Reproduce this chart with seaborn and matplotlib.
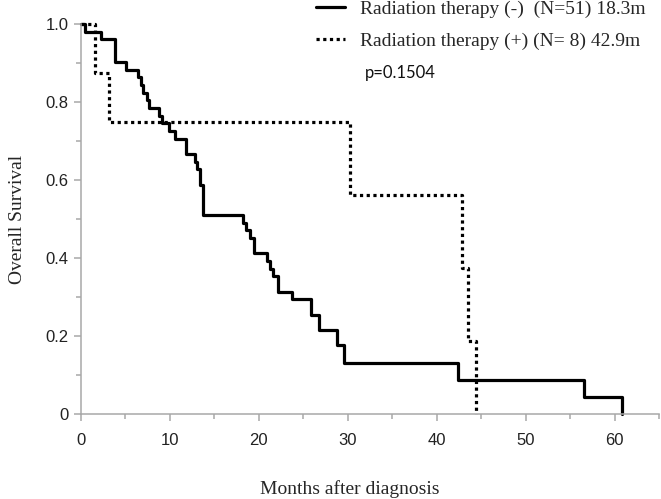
import matplotlib
matplotlib.use("Agg")
import matplotlib.pyplot as plt
import seaborn as sns
import pandas as pd
from matplotlib.ticker import MultipleLocator

# ---- data ----
rt_neg_months = [0, 0.45, 2.3, 3.8, 5.1, 6.45, 6.75, 7.0, 7.4, 7.6, 8.8, 9.1, 9.9, 10.6,
                 11.8, 12.8, 13.0, 13.4, 13.7, 18.2, 18.5, 19.0, 19.4, 20.9, 21.2, 21.6,
                 22.1, 23.7, 25.9, 26.8, 28.8, 29.6, 42.4, 56.6, 60.8]
rt_neg_surv = [1.0, 0.980, 0.961, 0.902, 0.882, 0.863, 0.843, 0.824, 0.804, 0.784, 0.765,
               0.745, 0.725, 0.706, 0.667, 0.647, 0.627, 0.588, 0.510, 0.490, 0.471, 0.451,
               0.412, 0.392, 0.373, 0.353, 0.314, 0.294, 0.255, 0.216, 0.176, 0.130, 0.087,
               0.044, 0.0]
rt_pos_months = [0, 1.6, 3.1, 30.3, 42.8, 43.5, 44.4]
rt_pos_surv = [1.0, 0.875, 0.75, 0.5625, 0.375, 0.1875, 0.0]

series_labels = ["Radiation therapy (-)  (N=51) 18.3m",
                 "Radiation therapy (+) (N= 8) 42.9m"]
p_text = "p=0.1504"
x_ticks = [0, 10, 20, 30, 40, 50, 60]
y_ticks = [0, 0.2, 0.4, 0.6, 0.8, 1.0]
y_tick_labels = ["0", "0.2", "0.4", "0.6", "0.8", "1.0"]
x_label = "Months after diagnosis"
y_label = "Overall Survival"

sns.set_style("white")
plt.rcParams["font.family"] = ["Liberation Sans", "DejaVu Sans"]

W, H = 661, 499
fig = plt.figure(figsize=(W / 100, H / 100), dpi=100)
ax = fig.add_axes([81 / W, 85 / H, 578 / W, 390 / H])

df_neg = pd.DataFrame({"months": rt_neg_months, "surv": rt_neg_surv})
df_pos = pd.DataFrame({"months": rt_pos_months, "surv": rt_pos_surv})

sns.lineplot(data=df_neg, x="months", y="surv", ax=ax, drawstyle="steps-post",
             color="black", linewidth=2.3, estimator=None, sort=False,
             label=series_labels[0], clip_on=False)
sns.lineplot(data=df_pos, x="months", y="surv", ax=ax, drawstyle="steps-post",
             color="black", linewidth=2.3, linestyle=(0, (1, 1.1)), estimator=None,
             sort=False, label=series_labels[1], clip_on=False)

ax.set_xlim(0, 65)
ax.set_ylim(0, 1.0)
ax.set_xticks(x_ticks)
ax.set_yticks(y_ticks)
ax.set_yticklabels(y_tick_labels)
ax.xaxis.set_minor_locator(MultipleLocator(5))
ax.yaxis.set_minor_locator(MultipleLocator(0.1))

grey = "#a8a8a8"
for s in ["top", "right"]:
    ax.spines[s].set_visible(False)
for s in ["left", "bottom"]:
    ax.spines[s].set_color(grey)
    ax.spines[s].set_linewidth(1.1)

ax.tick_params(axis="both", which="major", direction="out", length=5, width=1.1,
               color=grey, labelsize=12, labelcolor="#222222")
ax.tick_params(axis="both", which="minor", direction="out", length=3.5, width=1.1,
               color=grey)
ax.tick_params(axis="x", which="major", pad=9)
ax.tick_params(axis="y", which="major", pad=4)
ax.tick_params(axis="both", which="both", bottom=True, left=True)

ax.set_xlabel(x_label, family="Liberation Serif", fontsize=14)
ax.xaxis.set_label_coords((350 - 81) / 578, -(489 - 414) / 390)
ax.xaxis.label.set_va("center")
ax.set_ylabel(y_label, family="Liberation Serif", fontsize=14, labelpad=14)

leg = ax.legend(loc="upper left", bbox_to_anchor=(316 / W, 1.0),
                bbox_transform=fig.transFigure, frameon=False,
                prop={"family": "Liberation Serif", "size": 14},
                handlelength=1.5, handletextpad=0.75, labelspacing=0.75,
                borderpad=0, borderaxespad=0)

fig.text(365 / W, 1 - 73 / H, p_text, family="Lato", fontsize=12,
         ha="left", va="center", color="#111111")

fig.savefig("out.png", dpi=100)
